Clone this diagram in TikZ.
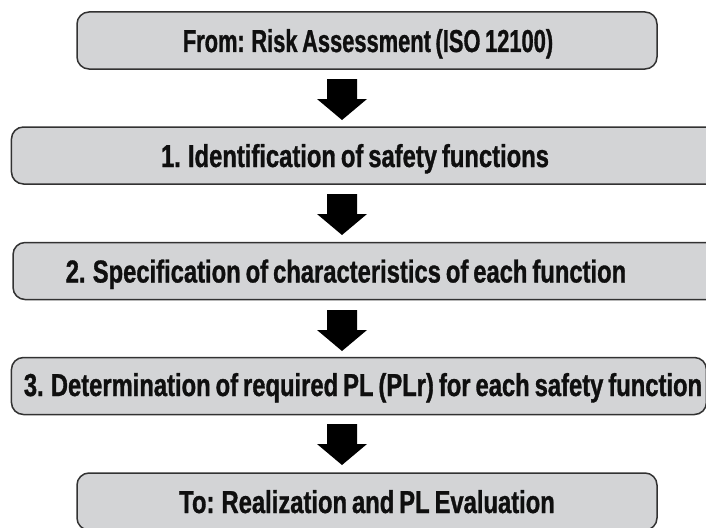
\documentclass[tikz,border=0pt]{standalone}
\usepackage{fontspec}
\setmainfont{Liberation Sans}[FakeStretch=0.75, WordSpace=0.75, FakeBold=1]
\usepackage{tikz}
\usetikzlibrary{positioning}

\definecolor{boxfill}{RGB}{211,212,214}
\definecolor{boxline}{RGB}{50,50,50}
\definecolor{textdark}{RGB}{15,15,15}

\tikzset{
  stepbox/.style={draw=boxline, fill=boxfill, line width=1.5pt,
    rounded corners=12pt, inner sep=0pt, minimum height=57pt},
  steptext/.style={anchor=base, inner sep=0pt, text=textdark,
    font=\fontsize{31.7}{38}\selectfont\bfseries},
}

\begin{document}
\begin{tikzpicture}[x=1pt,y=-1pt]
  \useasboundingbox (0,0) rectangle (706,527);

  % boxes
  \node[stepbox, minimum width=580pt] (b0) at (367,40.5) {};
  \node[stepbox, minimum width=720pt, anchor=west] (b1) at (10.7,155.5) {};
  \node[stepbox, minimum width=720pt, anchor=west] (b2) at (12.3,271) {};
  \node[stepbox, minimum width=695pt, anchor=west] (b3) at (10.7,386) {};
  \node[stepbox, minimum width=580pt] (b4) at (367,501.5) {};

  % labels
  \node[steptext] (t0) at (368,52) {\scalebox{0.92}[1]{From: Risk Assessment (ISO 12100)}};
  \node[steptext] (t1) at (355,167) {1. Identification of safety functions};
  \node[steptext] (t2) at (346,282.5) {2. Specification of characteristics of each function};
  \node[steptext] (t3) at (363,396) {3. Determination of required PL (PLr) for each safety function};
  \node[steptext] (t4) at (367,513) {To: Realization and PL Evaluation};

  % block arrows
  \foreach \top/\name in {79/a1, 194/a2, 310/a3, 424/a4}{
    \coordinate (\name) at (342,\top);
    \fill[black] (\name) ++(-15,0) -- ++(30,0) -- ++(0,20) -- ++(10,0)
      -- ++(-25,21) -- ++(-25,-21) -- ++(10,0) -- cycle;
  }
\end{tikzpicture}
\end{document}
